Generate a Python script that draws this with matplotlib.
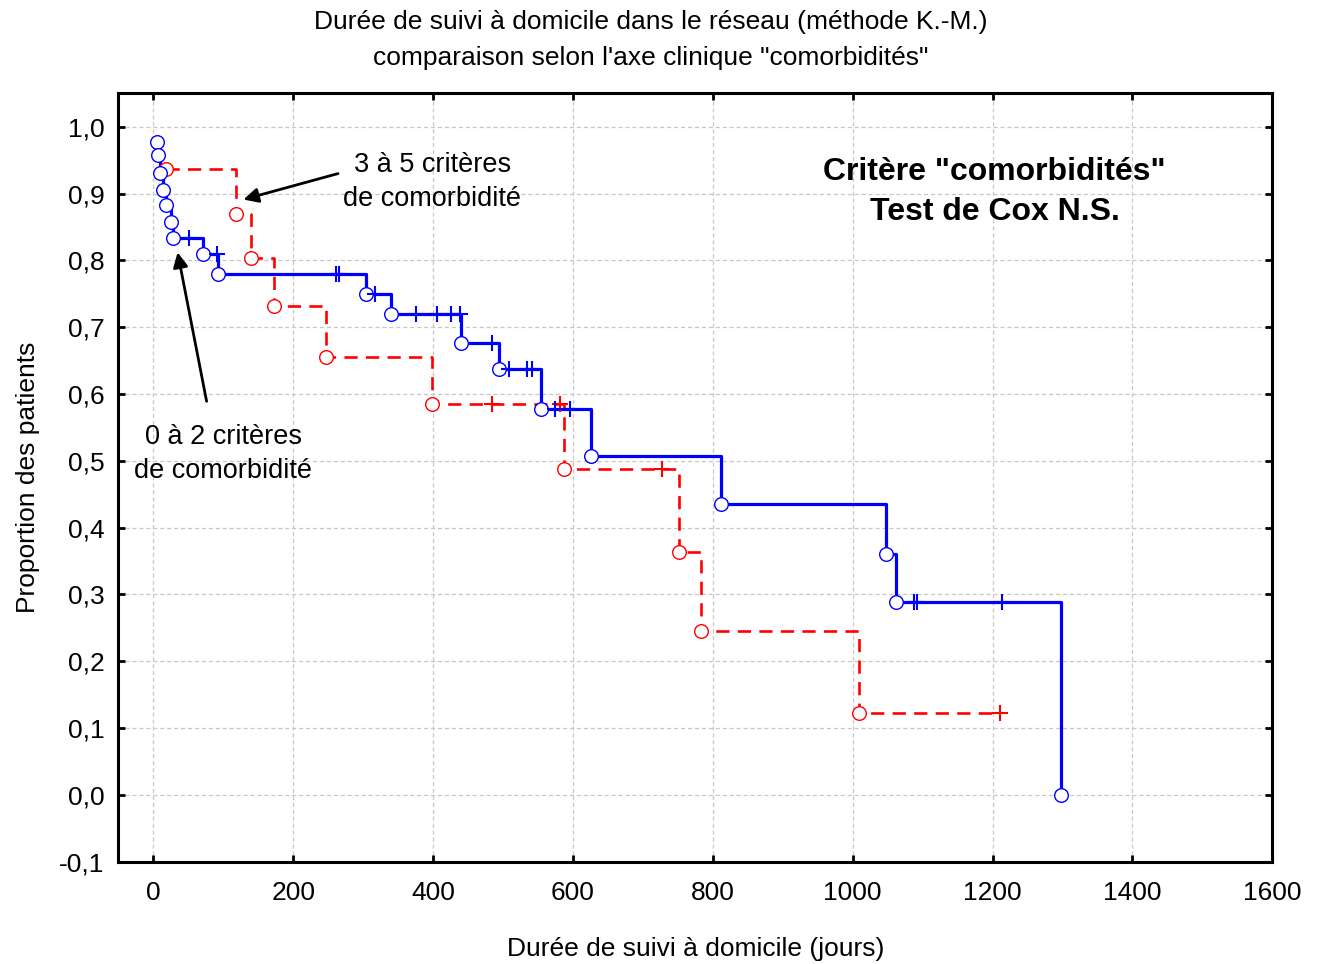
import matplotlib
matplotlib.use("Agg")
import matplotlib.pyplot as plt
from matplotlib.ticker import FuncFormatter

plt.rcParams['font.family'] = ['Liberation Sans', 'DejaVu Sans']
plt.rcParams['lines.scale_dashes'] = False

# 0 a 2 criteres (blue) : time, survival, censored flag
blue_t = [5, 7, 9.6, 14, 18, 25, 28.6, 51, 71, 91.5, 93, 261, 266, 304, 317, 340,
          376, 406, 426, 438, 440, 485, 494, 508, 534, 541, 554, 574, 596, 626,
          812, 1048, 1062, 1087, 1092, 1214, 1298]
blue_s = [0.977, 0.957, 0.930, 0.905, 0.883, 0.858, 0.834, 0.834, 0.810, 0.810, 0.779,
          0.779, 0.779, 0.750, 0.750, 0.719, 0.719, 0.719, 0.719, 0.719, 0.677, 0.677,
          0.638, 0.638, 0.638, 0.638, 0.577, 0.577, 0.577, 0.507, 0.435, 0.361, 0.289,
          0.289, 0.289, 0.289, 0.0]
blue_c = [0, 0, 0, 0, 0, 0, 0, 1, 0, 1, 0, 1, 1, 0, 1, 0, 1, 1, 1, 1, 0, 1, 0, 1, 1, 1,
          0, 1, 1, 0, 0, 0, 0, 1, 1, 1, 0]

# 3 a 5 criteres (red)
red_t = [17.7, 118, 140, 172, 247, 399, 484, 582, 587, 728, 751, 783, 1009, 1210]
red_s = [0.936, 0.869, 0.803, 0.732, 0.655, 0.585, 0.585, 0.585, 0.487, 0.487,
         0.364, 0.246, 0.122, 0.122]
red_c = [0, 0, 0, 0, 0, 0, 1, 1, 0, 1, 0, 0, 0, 1]

fig = plt.figure(figsize=(13.22, 9.64), dpi=100)
ax = fig.add_axes([0.0895, 0.1061, 0.8729, 0.7971])

ax.grid(True, color="#c8c8c8", linestyle=(0, (3, 2)), linewidth=0.9)
ax.set_axisbelow(True)


def km_curve(t, s, c, color, ls, lw):
    ax.step(t, s, where="post", color=color, linewidth=lw, linestyle=ls, zorder=3)
    ev_t = [x for x, f in zip(t, c) if f == 0]
    ev_s = [y for y, f in zip(s, c) if f == 0]
    ce_t = [x for x, f in zip(t, c) if f == 1]
    ce_s = [y for y, f in zip(s, c) if f == 1]
    ax.plot(ev_t, ev_s, "o", markersize=9.8, markerfacecolor="white",
            markeredgecolor=color, markeredgewidth=1.0, zorder=4)
    ax.plot(ce_t, ce_s, "+", markersize=11, color=color, markeredgewidth=1.5, zorder=4)


km_curve(red_t, red_s, red_c, "#ff0000", (0, (9.5, 6)), 1.9)
km_curve(blue_t, blue_s, blue_c, "#0000ff", "-", 2.3)

ax.set_xlim(-50, 1600)
ax.set_ylim(-0.1, 1.05)
ax.set_xticks(range(0, 1601, 200))
ax.set_yticks([i / 10 for i in range(-1, 11)])
ax.yaxis.set_major_formatter(FuncFormatter(lambda v, p: f"{v:.1f}".replace(".", ",")))
ax.tick_params(direction="in", length=5, width=2, labelsize=19, top=True, right=True)
ax.tick_params(axis="x", pad=14)
ax.tick_params(axis="y", pad=10)
for sp in ax.spines.values():
    sp.set_linewidth(2.2)

ax.set_xlabel("Durée de suivi à domicile (jours)", fontsize=19, labelpad=23)
ax.set_ylabel("Proportion des patients", fontsize=19, labelpad=14)

fig.text(0.492, 0.977, "Durée de suivi à domicile dans le réseau (méthode K.-M.)",
         ha="center", va="center", fontsize=19)
fig.text(0.492, 0.940, "comparaison selon l'axe clinique \"comorbidités\"",
         ha="center", va="center", fontsize=19)

ax.annotate("", xy=(125, 0.890), xytext=(268, 0.931),
            arrowprops=dict(arrowstyle="-|>", color="black", lw=2, mutation_scale=22))
ax.annotate("", xy=(34, 0.816), xytext=(77, 0.585),
            arrowprops=dict(arrowstyle="-|>", color="black", lw=2, mutation_scale=22))
ax.text(399, 0.918, "3 à 5 critères\nde comorbidité", ha="center", va="center",
        fontsize=19.5, linespacing=1.4)
ax.text(100, 0.510, "0 à 2 critères\nde comorbidité", ha="center", va="center",
        fontsize=19.5, linespacing=1.4)
ax.text(1203, 0.902, "Critère \"comorbidités\"\nTest de Cox N.S.", ha="center",
        va="center", fontsize=23, fontweight="bold", linespacing=1.42)

fig.savefig("out.png", dpi=100)
